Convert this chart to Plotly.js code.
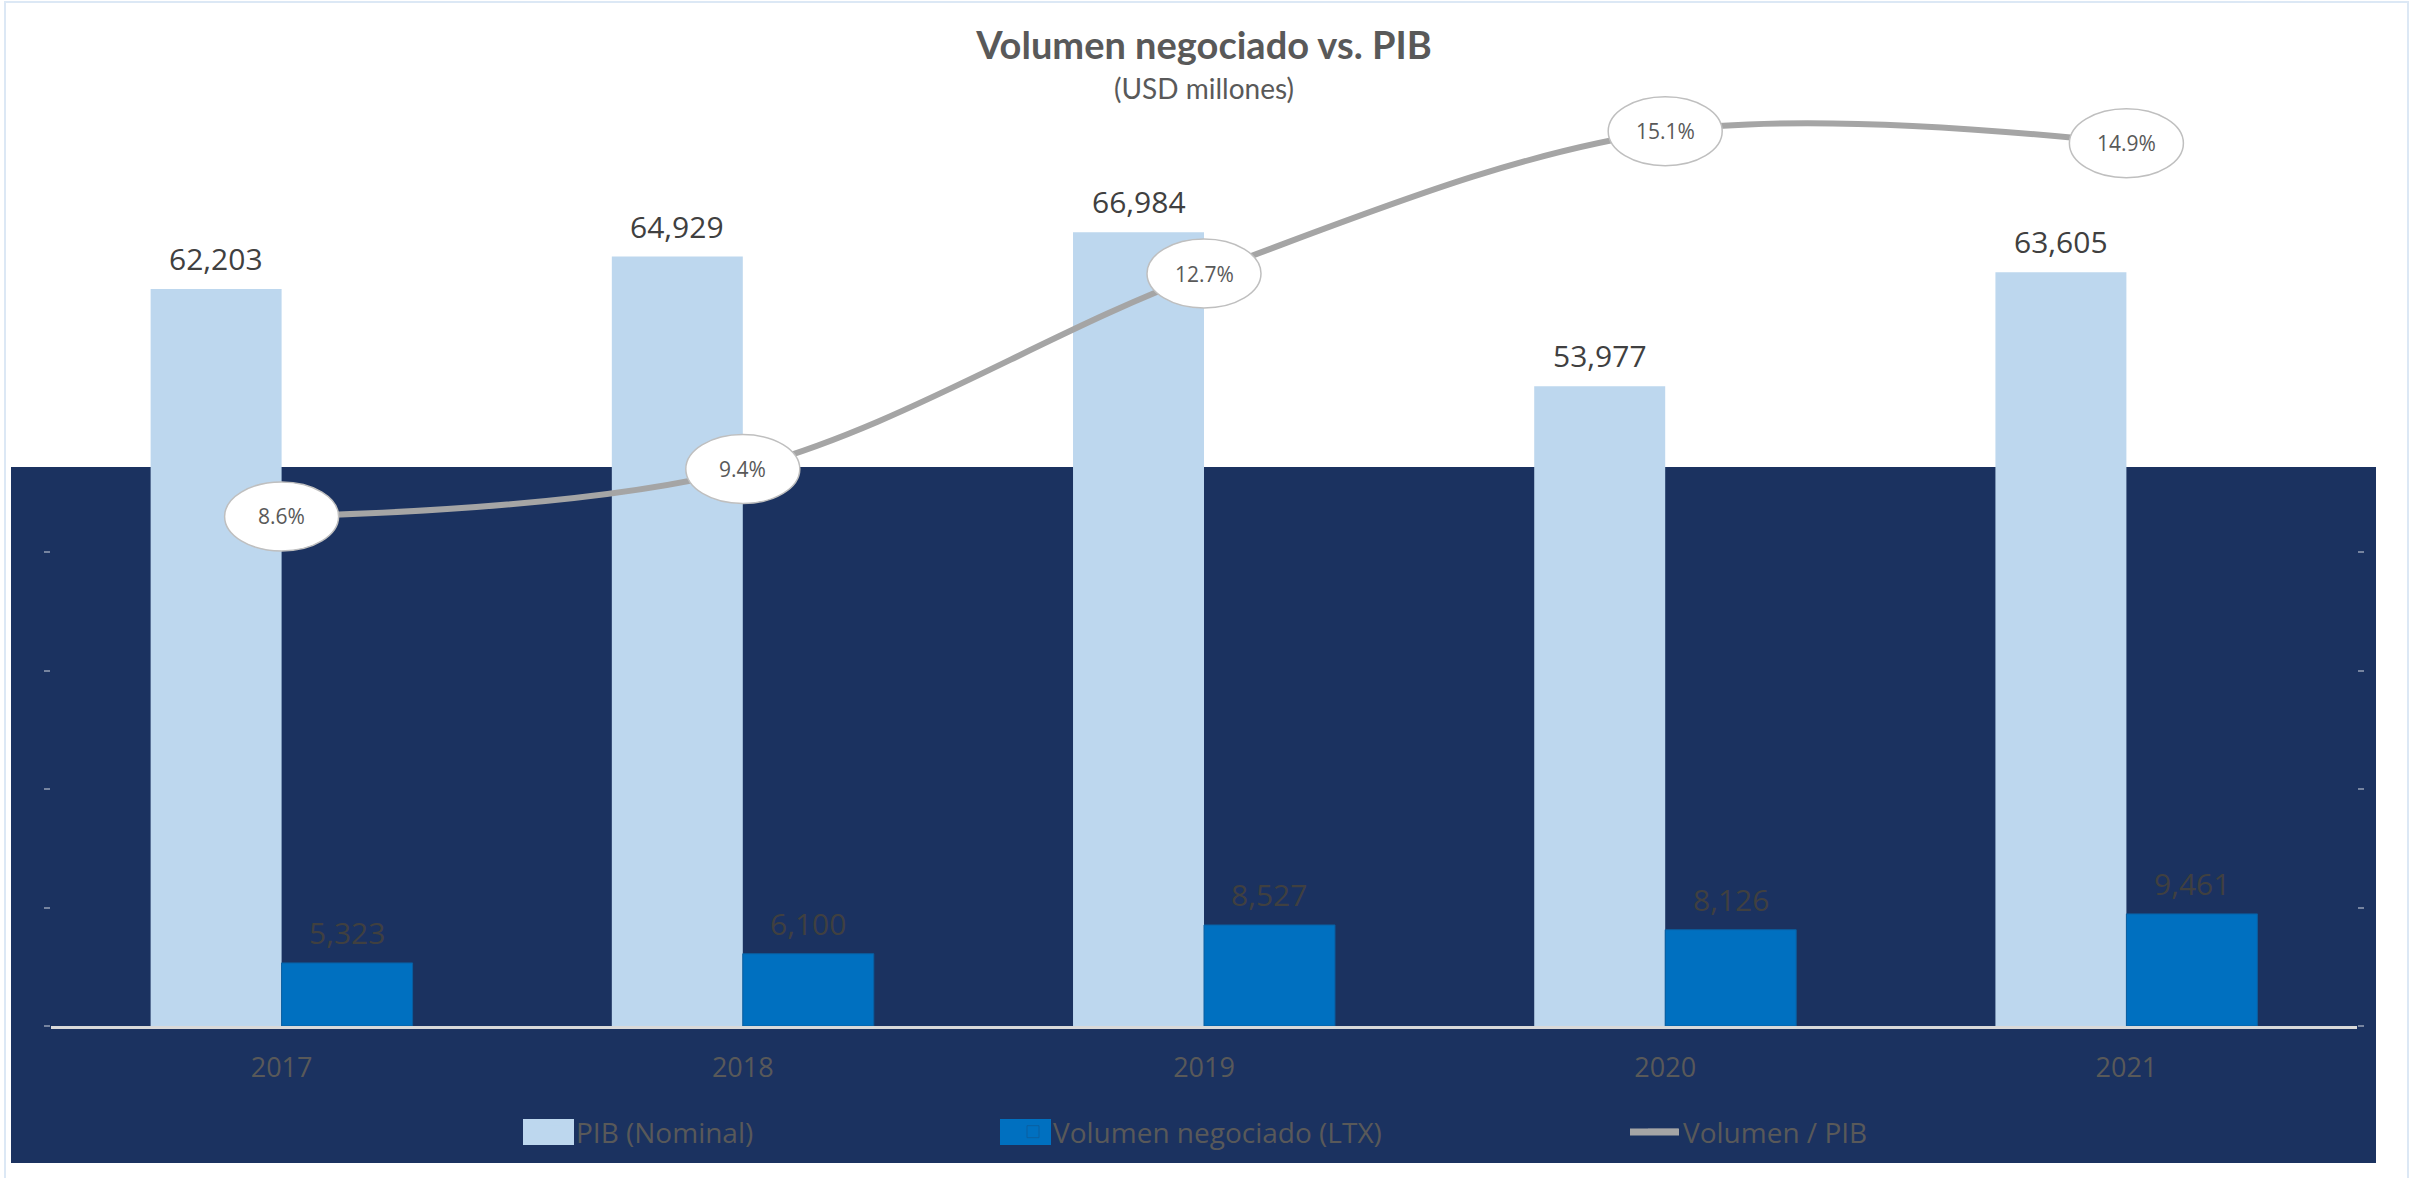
<!DOCTYPE html>
<html>
<head>
<meta charset="utf-8">
<script src="https://cdn.plot.ly/plotly-3.0.1.min.js"></script>
<style>
  html, body { margin: 0; padding: 0; background: #ffffff; }
  #chart { width: 2419px; height: 1178px; }
</style>
</head>
<body>
<div id="chart"></div>
<script>
// ---- Data ----
const years = ['2017', '2018', '2019', '2020', '2021'];
const pibNominal = [62203, 64929, 66984, 53977, 63605];
const volumenLTX = [5323, 6100, 8527, 8126, 9461];
const volumenPib = [8.6, 9.4, 12.7, 15.1, 14.9];

const seriesNames = ['PIB (Nominal)', 'Volumen negociado (LTX)', 'Volumen / PIB'];
const titleText = 'Volumen negociado vs. PIB';
const subtitleText = '(USD millones)';

// ---- Layout geometry (pixels) ----
const W = 2419, H = 1178;
const M = { l: 51, r: 62, t: 78, b: 152 };
const plotW = W - M.l - M.r, plotH = H - M.t - M.b;
const px2x = p => (p - M.l) / plotW;
const px2y = p => (H - M.b - p) / plotH;

const NAVY = '#1B3260';
const PIB_COLOR = '#BDD7EE';
const VOL_COLOR = '#0070C0';
const LINE_COLOR = '#A5A5A5';
const TEXT_DARK = '#404040';
const TEXT_GRAY = '#595959';
const FONT = 'Open Sans, Noto Sans, sans-serif';
const BARGAP = 0.432;

const traces = [
  {
    type: 'bar', name: seriesNames[0], x: years, y: pibNominal,
    marker: { color: PIB_COLOR },
    legend: 'legend', hoverinfo: 'skip'
  },
  {
    type: 'bar', name: seriesNames[1], x: years, y: volumenLTX,
    marker: { color: VOL_COLOR, line: { color: '#0A5FA0', width: 1 } },
    legend: 'legend2', hoverinfo: 'skip'
  },
  {
    type: 'scatter', mode: 'lines', name: seriesNames[2], x: years, y: volumenPib,
    yaxis: 'y2', line: { color: LINE_COLOR, width: 6, shape: 'spline', smoothing: 1 },
    legend: 'legend3', hoverinfo: 'skip', cliponaxis: false
  }
];

// Bar value labels (placed over each bar of the group)
const barOffset = (1 - BARGAP) / 4;
const fmt = v => v.toLocaleString('en-US');
const barLabels = [].concat(
  pibNominal.map((v, i) => ({
    xref: 'x', yref: 'y', x: i - barOffset, y: v, text: fmt(v),
    showarrow: false, xanchor: 'center', yanchor: 'bottom', yshift: 8,
    font: { family: FONT, size: 30, color: TEXT_DARK }
  })),
  volumenLTX.map((v, i) => ({
    xref: 'x', yref: 'y', x: i + barOffset, y: v, text: fmt(v),
    showarrow: false, xanchor: 'center', yanchor: 'bottom', yshift: 8,
    font: { family: FONT, size: 30, color: TEXT_DARK }
  }))
);

// Ellipse callouts and labels for the ratio line
const ellipseShapes = volumenPib.map((v, i) => ({
  type: 'circle', layer: 'above',
  xref: 'x', yref: 'y2',
  xsizemode: 'pixel', ysizemode: 'pixel',
  xanchor: i, yanchor: v,
  x0: -57, x1: 57, y0: -34.5, y1: 34.5,
  fillcolor: '#FFFFFF', line: { color: '#BFBFBF', width: 1.5 }
}));
const ratioLabels = volumenPib.map((v, i) => ({
  xref: 'x', yref: 'y2', x: i, y: v,
  text: v.toFixed(1) + '%', showarrow: false,
  font: { family: FONT, size: 21, color: TEXT_GRAY },
  xanchor: 'center', yanchor: 'middle'
}));

const LEG_Y = 1132;
const shapes = [
  // outer chart border
  { type: 'rect', layer: 'below', xref: 'paper', yref: 'paper',
    x0: px2x(5), x1: px2x(2408), y0: px2y(1195), y1: px2y(2),
    fillcolor: 'rgba(0,0,0,0)', line: { color: '#DCE8F5', width: 2 } },
  // navy panel
  { type: 'rect', layer: 'below', xref: 'paper', yref: 'paper',
    x0: px2x(11), x1: px2x(2376), y0: px2y(1163), y1: px2y(467),
    fillcolor: NAVY, line: { width: 0 } },
  // enlarged legend swatches (behind the legend's own symbols)
  { type: 'rect', layer: 'above', xref: 'paper', yref: 'paper',
    x0: px2x(523), x1: px2x(574), y0: px2y(LEG_Y + 13), y1: px2y(LEG_Y - 13),
    fillcolor: PIB_COLOR, line: { width: 0 } },
  { type: 'rect', layer: 'above', xref: 'paper', yref: 'paper',
    x0: px2x(1000), x1: px2x(1051), y0: px2y(LEG_Y + 13), y1: px2y(LEG_Y - 13),
    fillcolor: VOL_COLOR, line: { width: 0 } },
  { type: 'line', layer: 'above', xref: 'paper', yref: 'paper',
    x0: px2x(1630), x1: px2x(1679), y0: px2y(LEG_Y), y1: px2y(LEG_Y),
    line: { color: LINE_COLOR, width: 7 } }
].concat(ellipseShapes);

const legendBase = {
  orientation: 'h', yanchor: 'middle', xanchor: 'left',
  y: px2y(LEG_Y), bgcolor: 'rgba(0,0,0,0)', borderwidth: 0,
  font: { family: FONT, size: 28, color: TEXT_GRAY }
};

const layout = {
  width: W, height: H, autosize: false,
  margin: { l: M.l, r: M.r, t: M.t, b: M.b, pad: 0 },
  paper_bgcolor: '#FFFFFF', plot_bgcolor: 'rgba(0,0,0,0)',
  font: { family: FONT, color: TEXT_GRAY },
  showlegend: true,
  title: {
    text: '<b>' + titleText + '</b>',
    font: { family: 'Lato, Open Sans, sans-serif', size: 38, color: TEXT_GRAY },
    xref: 'paper', x: 0.5, xanchor: 'center',
    yref: 'container', y: 1 - 46 / H, yanchor: 'middle'
  },
  barmode: 'group', bargap: BARGAP, bargroupgap: 0,
  xaxis: {
    type: 'category', showgrid: false, zeroline: false,
    showline: true, linecolor: '#D9D9D9', linewidth: 3,
    ticks: '', ticklabelstandoff: 16,
    tickfont: { family: FONT, size: 27, color: TEXT_GRAY },
    fixedrange: true
  },
  yaxis: {
    range: [0, 80000], dtick: 10000, showgrid: false, zeroline: false,
    showline: false, showticklabels: false,
    ticks: 'outside', ticklen: 6, tickwidth: 2, tickcolor: 'rgba(255,255,255,0.4)',
    fixedrange: true
  },
  yaxis2: {
    overlaying: 'y', side: 'right', range: [0, 16], dtick: 2,
    showgrid: false, zeroline: false, showline: false, showticklabels: false,
    ticks: 'outside', ticklen: 6, tickwidth: 2, tickcolor: 'rgba(255,255,255,0.4)',
    fixedrange: true
  },
  legend: Object.assign({}, legendBase, { x: px2x(536) }),
  legend2: Object.assign({}, legendBase, { x: px2x(1013) }),
  legend3: Object.assign({}, legendBase, { x: px2x(1643) }),
  shapes: shapes,
  annotations: [
    { xref: 'paper', yref: 'paper', x: 0.5, y: px2y(88), xanchor: 'center', yanchor: 'middle',
      text: subtitleText, showarrow: false,
      font: { family: 'Lato, Open Sans, sans-serif', size: 28, color: TEXT_GRAY } }
  ].concat(barLabels, ratioLabels),
  hovermode: false
};

Plotly.newPlot('chart', traces, layout, { displayModeBar: false, staticPlot: true });
</script>
</body>
</html>
